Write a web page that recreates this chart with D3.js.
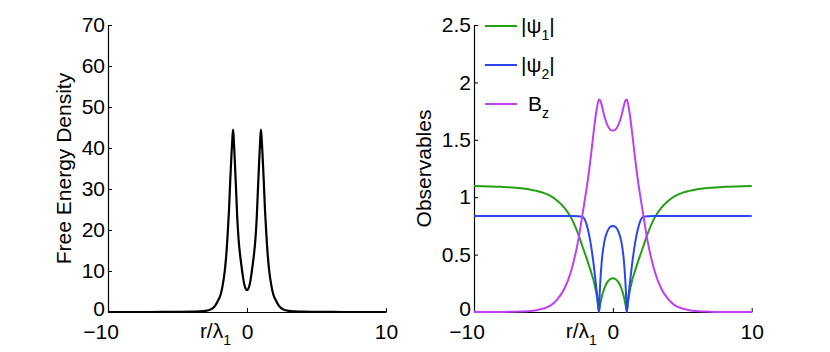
<!DOCTYPE html>
<html>
<head>
<meta charset="utf-8">
<script src="https://cdn.jsdelivr.net/npm/d3@7"></script>
<style>
  body { margin: 0; background: #fff; }
  svg { font-family: "Liberation Sans", Arial, sans-serif; }
</style>
</head>
<body>
<div id="chart"></div>
<script>
// free energy density vs r/lambda_1
const feR = [-10, -7, -5, -4, -3.5, -3, -2.6, -2.3, -2.1, -1.9, -1.75, -1.6, -1.5, -1.4, -1.3, -1.2, -1.1, -1.05, -1, -0.95, -0.9, -0.8, -0.7, -0.6, -0.5, -0.4, -0.3, -0.2, -0.1, 0,
  0.1, 0.2, 0.3, 0.4, 0.5, 0.6, 0.7, 0.8, 0.9, 0.95, 1, 1.05, 1.1, 1.2, 1.3, 1.4, 1.5, 1.6, 1.75, 1.9, 2.1, 2.3, 2.6, 3, 3.5, 4, 5, 7, 10];
const feVal = [0, 0.005, 0.03, 0.08, 0.15, 0.27, 0.65, 1.5, 2.7, 4.2, 6.5, 10, 13.5, 18.5, 24.5, 32.5, 39.5, 42.5, 44.5, 42, 38.5, 31, 23, 17.5, 14, 11.3, 8.8, 6.8, 5.7, 5.3,
  5.7, 6.8, 8.8, 11.3, 14, 17.5, 23, 31, 38.5, 42, 44.5, 42.5, 39.5, 32.5, 24.5, 18.5, 13.5, 10, 6.5, 4.2, 2.7, 1.5, 0.65, 0.27, 0.15, 0.08, 0.03, 0.005, 0];

// observables
const obsR = [-10, -8, -7, -6, -5.5, -5, -4.5, -4, -3.5, -3, -2.5, -2.2, -2, -1.8, -1.6, -1.4, -1.2, -1.1, -1, -0.95, -0.9, -0.8, -0.6, -0.4, -0.2, 0,
  0.2, 0.4, 0.6, 0.8, 0.9, 0.95, 1, 1.1, 1.2, 1.4, 1.6, 1.8, 2, 2.2, 2.5, 3, 3.5, 4, 4.5, 5, 5.5, 6, 7, 8, 10];
const psi1 = [1.098, 1.09, 1.082, 1.068, 1.055, 1.038, 1.012, 0.97, 0.91, 0.82, 0.68, 0.575, 0.505, 0.435, 0.36, 0.28, 0.17, 0.09, 0, 0.035, 0.07, 0.13, 0.21, 0.26, 0.285, 0.295,
  0.285, 0.26, 0.21, 0.13, 0.07, 0.035, 0, 0.09, 0.17, 0.28, 0.36, 0.435, 0.505, 0.575, 0.68, 0.82, 0.91, 0.97, 1.012, 1.038, 1.055, 1.068, 1.082, 1.09, 1.098];
const psi2 = [0.836, 0.836, 0.836, 0.836, 0.836, 0.836, 0.836, 0.836, 0.836, 0.836, 0.835, 0.83, 0.8, 0.72, 0.6, 0.43, 0.22, 0.11, 0, 0.15, 0.27, 0.44, 0.62, 0.7, 0.74, 0.75,
  0.74, 0.7, 0.62, 0.44, 0.27, 0.15, 0, 0.11, 0.22, 0.43, 0.6, 0.72, 0.8, 0.83, 0.835, 0.836, 0.836, 0.836, 0.836, 0.836, 0.836, 0.836, 0.836, 0.836, 0.836];
const bz = [0, 0.001, 0.003, 0.008, 0.016, 0.03, 0.055, 0.11, 0.2, 0.36, 0.62, 0.84, 0.99, 1.15, 1.34, 1.55, 1.74, 1.81, 1.85, 1.848, 1.84, 1.8, 1.7, 1.63, 1.59, 1.58,
  1.59, 1.63, 1.7, 1.8, 1.84, 1.848, 1.85, 1.81, 1.74, 1.55, 1.34, 1.15, 0.99, 0.84, 0.62, 0.36, 0.2, 0.11, 0.055, 0.03, 0.016, 0.008, 0.003, 0.001, 0];

const xTicks = [-10, 0, 10];
const feTicks = [0, 10, 20, 30, 40, 50, 60, 70];
const obsTicks = [0, 0.5, 1, 1.5, 2, 2.5];
const seriesNames = ["ψ1", "ψ2", "Bz"];
const seriesColors = ["#22a012", "#2a45f5", "#c03ff2"];

const width = 830, height = 352;
const fontSize = 21;

const svg = d3.select("#chart").append("svg")
  .attr("width", width)
  .attr("height", height);

const fmt = d => (d < 0 ? "\u2212" + Math.abs(d) : String(d));

function drawAxes(x, y, yTicks) {
  const gx = svg.append("g")
    .attr("transform", `translate(0,${y.range()[0]})`)
    .call(d3.axisBottom(x).tickValues(xTicks).tickFormat(fmt).tickSizeInner(-4).tickSizeOuter(0).tickPadding(12));
  const gy = svg.append("g")
    .attr("transform", `translate(${x.range()[0]},0)`)
    .call(d3.axisLeft(y).tickValues(yTicks).tickFormat(fmt).tickSizeInner(-4).tickSizeOuter(0).tickPadding(3));
  [gx, gy].forEach(g => {
    g.selectAll("text").attr("font-size", fontSize).attr("font-family", "Liberation Sans, Arial, sans-serif").attr("fill", "#000");
    g.select(".domain").attr("stroke", "#000").attr("stroke-width", 1.2);
    g.selectAll(".tick line").attr("stroke", "#000");
  });
  // minus sign makes the label look shifted in the original
  gx.selectAll(".tick text").filter(d => d < 0).attr("dx", -7.5);
  gy.selectAll(".tick text").filter(d => d === 0).attr("y", -3.5);

  // x label sits to the left of the 0 tick
  const lab = svg.append("text")
    .attr("x", x(0) - 16)
    .attr("y", y.range()[0] + 26)
    .attr("text-anchor", "end")
    .attr("font-size", fontSize);
  lab.append("tspan").text("r/λ");
  lab.append("tspan").attr("font-size", 14).attr("dy", 7).text("1");
}

// ---- left panel
const x1 = d3.scaleLinear().domain([-10, 10]).range([108, 386]);
const y1 = d3.scaleLinear().domain([0, 70]).range([312, 25]);
drawAxes(x1, y1, feTicks);

svg.append("text")
  .attr("transform", `translate(71,${(y1.range()[0] + y1.range()[1]) / 2}) rotate(-90)`)
  .attr("text-anchor", "middle")
  .attr("font-size", fontSize)
  .text("Free Energy Density");

const feLine = d3.line()
  .x((d, i) => x1(feR[i]))
  .y(d => y1(d))
  .curve(d3.curveMonotoneX);

svg.append("path")
  .attr("d", feLine(feVal))
  .attr("fill", "none")
  .attr("stroke", "#000")
  .attr("stroke-width", 2.2);

// ---- right panel
const x2 = d3.scaleLinear().domain([-10, 10]).range([474, 751.7]);
const y2 = d3.scaleLinear().domain([0, 2.5]).range([312, 25]);
drawAxes(x2, y2, obsTicks);

svg.append("text")
  .attr("transform", `translate(431,${(y2.range()[0] + y2.range()[1]) / 2}) rotate(-90)`)
  .attr("text-anchor", "middle")
  .attr("font-size", fontSize)
  .text("Observables");

const obsLine = d3.line()
  .x((d, i) => x2(obsR[i]))
  .y(d => y2(d))
  .curve(d3.curveMonotoneX);

[psi1, psi2, bz].forEach((s, i) => {
  svg.append("path")
    .attr("d", obsLine(s))
    .attr("fill", "none")
    .attr("stroke", seriesColors[i])
    .attr("stroke-width", 2);
});

// legend
const legendY = [26, 65, 104];
seriesNames.forEach((name, i) => {
  svg.append("line")
    .attr("x1", 485).attr("x2", 517)
    .attr("y1", legendY[i]).attr("y2", legendY[i])
    .attr("stroke", seriesColors[i])
    .attr("stroke-width", 2);
  const t = svg.append("text")
    .attr("y", legendY[i] + 7)
    .attr("font-size", fontSize);
  if (name.startsWith("ψ")) {
    t.attr("x", 521);
    t.append("tspan").text("|ψ");
    t.append("tspan").attr("font-size", 14).attr("dy", 7).text(name.slice(1));
    t.append("tspan").attr("dy", -7).text("|");
  } else {
    t.attr("x", 528);
    t.append("tspan").text("B");
    t.append("tspan").attr("font-size", 14).attr("dy", 7).text("z");
  }
});
</script>
</body>
</html>
